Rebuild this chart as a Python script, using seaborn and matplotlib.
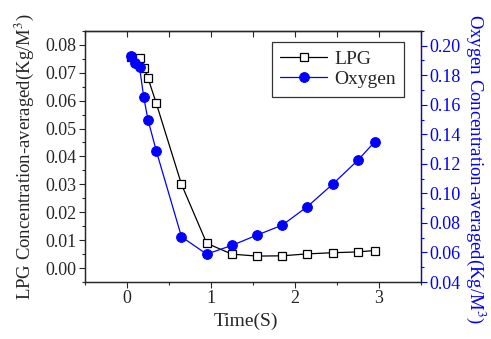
import matplotlib
matplotlib.use("Agg")
import matplotlib.pyplot as plt
import seaborn as sns
from matplotlib.ticker import MultipleLocator, FormatStrFormatter

# data
lpg_time = [0.05, 0.15, 0.2, 0.25, 0.35, 0.65, 0.95, 1.25, 1.55, 1.85, 2.15, 2.45, 2.75, 2.95]
lpg_conc = [0.0755, 0.0754, 0.0718, 0.0682, 0.0590, 0.0300, 0.0089, 0.0050, 0.0043,
            0.0044, 0.0051, 0.0055, 0.0058, 0.0063]

oxy_time = [0.05, 0.1, 0.15, 0.2, 0.25, 0.35, 0.65, 0.95, 1.25, 1.55, 1.85, 2.15, 2.45, 2.75, 2.95]
oxy_conc = [0.1933, 0.1885, 0.1855, 0.1652, 0.1500, 0.1287, 0.0706, 0.0589, 0.0648,
            0.0718, 0.0785, 0.0911, 0.1062, 0.1224, 0.1348]

sns.set_style("ticks")
plt.rcParams['font.family'] = ['Liberation Serif', 'DejaVu Serif']
plt.rcParams['mathtext.fontset'] = 'stix'

fig = plt.figure(figsize=(4.91, 3.39), dpi=100)
ax = fig.add_axes([0.173, 0.168, 0.684, 0.741])
ax2 = ax.twinx()

sns.lineplot(x=lpg_time, y=lpg_conc, ax=ax, color='black', linewidth=0.9,
             marker='s', markersize=5.5, markerfacecolor='white',
             markeredgecolor='black', markeredgewidth=0.9, label='LPG', legend=False)
sns.lineplot(x=oxy_time, y=oxy_conc, ax=ax2, color='blue', linewidth=0.9,
             marker='o', markersize=7, markerfacecolor='blue',
             markeredgecolor='blue', label='Oxygen', legend=False)

ax.set_xlim(-0.5, 3.5)
ax.set_ylim(-0.005, 0.085)
ax2.set_ylim(0.04, 0.21)

ax.xaxis.set_major_locator(MultipleLocator(1))
ax.xaxis.set_minor_locator(MultipleLocator(0.5))
ax.yaxis.set_major_locator(MultipleLocator(0.01))
ax.yaxis.set_minor_locator(MultipleLocator(0.005))
ax2.yaxis.set_major_locator(MultipleLocator(0.02))
ax2.yaxis.set_minor_locator(MultipleLocator(0.01))
ax.yaxis.set_major_formatter(FormatStrFormatter('%.2f'))
ax2.yaxis.set_major_formatter(FormatStrFormatter('%.2f'))

ax.tick_params(axis='both', which='major', length=4, width=0.8, labelsize=13, pad=2)
ax.tick_params(axis='both', which='minor', length=2.5, width=0.8)
ax2.tick_params(axis='y', which='major', length=4, width=0.8, colors='blue', labelsize=13, pad=2)
ax2.tick_params(axis='y', which='minor', length=2.5, width=0.8, colors='blue')

# top ticks point inward, no labels
top = ax.secondary_xaxis('top')
top.xaxis.set_major_locator(MultipleLocator(0.5))
top.tick_params(direction='in', length=4, width=0.8, labeltop=False)

for s in list(ax.spines.values()) + list(ax2.spines.values()) + list(top.spines.values()):
    s.set_linewidth(0.9)
ax2.spines['right'].set_color('blue')

ax.set_xlabel('Time(S)', fontsize=14, va='center')
ax.xaxis.set_label_coords(0.48, -0.158)
ax.set_ylabel(r'LPG Concentration-averaged(Kg/M$^3$)', fontsize=13.5,
              rotation=90, ha='center', va='center')
ax.yaxis.set_label_coords(-0.18, 0.5)
ax2.set_ylabel(r'Oxygen Concentration-averaged(Kg/M$^3$)', fontsize=13.5, color='blue',
               rotation=270, ha='center', va='center')
ax2.yaxis.set_label_coords(1.165, 0.45)

h1, l1 = ax.get_legend_handles_labels()
h2, l2 = ax2.get_legend_handles_labels()
leg = ax2.legend(h1 + h2, l1 + l2, loc='upper left', bbox_to_anchor=(0.556, 0.956),
                 frameon=True, fancybox=False, edgecolor='black', fontsize=14,
                 handlelength=2.4, borderpad=0.45, labelspacing=0.1, handletextpad=0.35,
                 borderaxespad=0)
leg.get_frame().set_linewidth(0.9)

fig.savefig('out.png', dpi=100)
